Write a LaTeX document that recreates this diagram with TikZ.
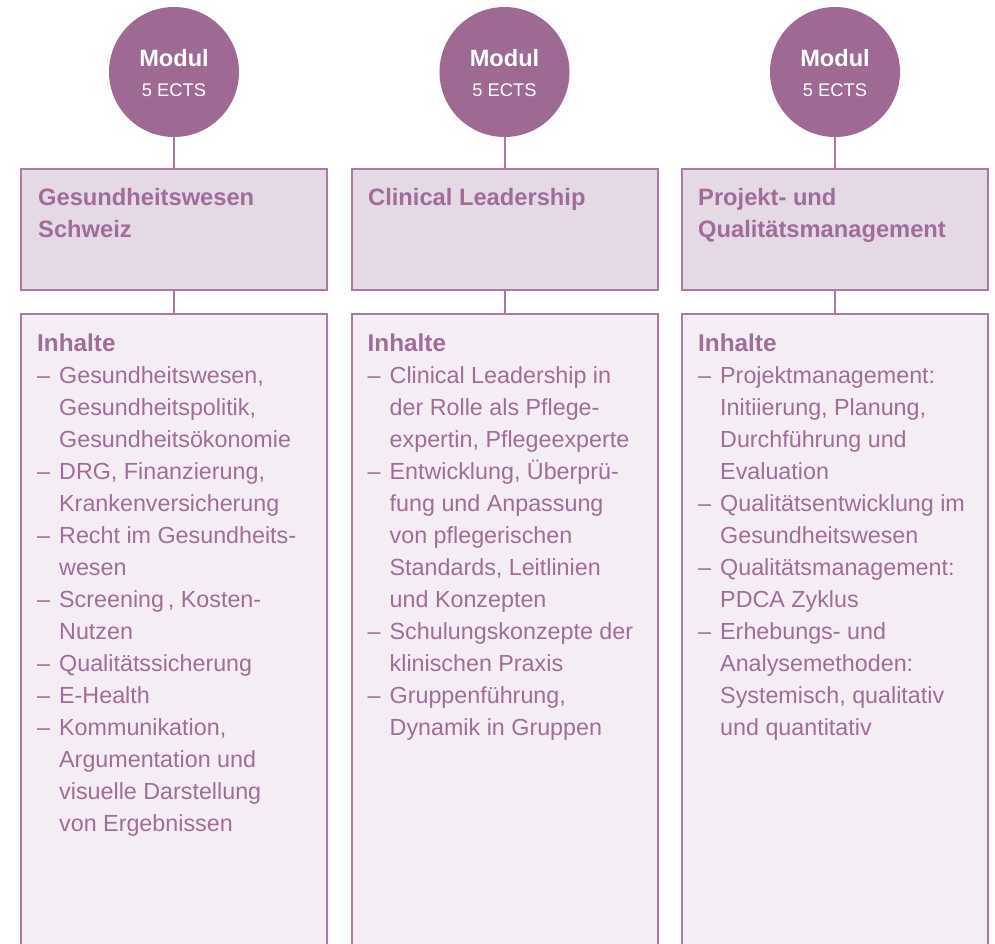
\documentclass[tikz,border=0pt]{standalone}
\usepackage{fontspec}
\setmainfont{Liberation Sans}
\definecolor{circ}{HTML}{9E6A93}
\definecolor{bord}{HTML}{A87BA2}
\definecolor{headf}{HTML}{E6D9E6}
\definecolor{contf}{HTML}{F4EEF4}
\definecolor{txt}{HTML}{A06C99}
\newcommand\dashline[4]{\node[itm] (#1) at (#2,#3) {\makebox[22pt][l]{–}#4};}
\newcommand\contline[4]{\node[itm] (#1) at (#2+22,#3) {#4};}
\begin{document}
\begin{tikzpicture}[x=1pt,y=-1pt,
 modc/.style={circle,fill=circ,draw=none,minimum size=130pt,inner sep=0},
 headbox/.style={rectangle,draw=bord,line width=2pt,fill=headf,minimum width=306pt,minimum height=121pt,inner sep=0},
 contbox/.style={rectangle,draw=bord,line width=2pt,fill=contf,minimum width=306pt,minimum height=646pt,inner sep=0},
 conn/.style={draw=bord,line width=2pt},
 ttl/.style={anchor=base west,inner sep=0,text=txt,font=\fontsize{23.7}{28}\selectfont\bfseries},
 itm/.style={anchor=base west,inner sep=0,text=txt,font=\fontsize{23.3}{28}\selectfont},
 hdl/.style={anchor=base west,inner sep=0,text=txt,font=\fontsize{24.3}{28}\selectfont\bfseries},
 mtop/.style={anchor=base,inner sep=0,text=white,font=\fontsize{23.6}{28}\selectfont\bfseries},
 mbot/.style={anchor=base,inner sep=0,text=white,font=\fontsize{18.3}{22}\selectfont}]
\useasboundingbox (0,0) rectangle (995,943);
\clip (0,0) rectangle (995,943);
\fill[white] (0,0) rectangle (995,943);
% columns
\foreach \cx/\k in {174/1,504.5/2,835/3}{
  \node[modc] (c\k) at (\cx,72) {};
  \node[headbox] (h\k) at (\cx,229.5) {};
  \node[contbox] (b\k) at (\cx,637) {};
  \draw[conn] (c\k) -- (h\k);
  \draw[conn] (h\k) -- (b\k);
  \node[mtop] (m\k) at (\cx,66) {Modul};
  \node[mbot] (e\k) at (\cx,96) {5 ECTS};
}
% titles
\node[ttl] (t11) at (38,205) {Gesundheitswesen};
\node[ttl] (t12) at (38,237) {Schweiz};
\node[ttl] (t21) at (368,205) {Clinical Leadership};
\node[ttl] (t31) at (698,205) {Projekt- und};
\node[ttl] (t32) at (698,237) {Qualitätsmanagement};
% column 1
\node[hdl] (i1) at (37,351) {Inhalte};
\dashline{a1}{37}{383}{Gesundheitswesen,}
\contline{a2}{37}{415}{Gesundheitspolitik,}
\contline{a3}{37}{447}{Gesundheitsökonomie}
\dashline{a4}{37}{479}{DRG, Finanzierung,}
\contline{a5}{37}{511}{Krankenversicherung}
\dashline{a6}{37}{543}{Recht im Gesundheits-}
\contline{a7}{37}{575}{wesen}
\dashline{a8}{37}{607}{Screening\thinspace, Kosten-}
\contline{a9}{37}{639}{Nutzen}
\dashline{a10}{37}{671}{Qualitätssicherung}
\dashline{a11}{37}{703}{E-Health}
\dashline{a12}{37}{735}{Kommunikation,}
\contline{a13}{37}{767}{Argumentation und}
\contline{a14}{37}{799}{visuelle Darstellung}
\contline{a15}{37}{831}{von Ergebnissen}
% column 2
\node[hdl] (i2) at (367.5,351) {Inhalte};
\dashline{p1}{367.5}{383}{Clinical Leadership in}
\contline{p2}{367.5}{415}{der Rolle als Pflege-}
\contline{p3}{367.5}{447}{expertin, Pflegeexperte}
\dashline{p4}{367.5}{479}{Entwicklung, Überprü-}
\contline{p5}{367.5}{511}{fung und Anpassung}
\contline{p6}{367.5}{543}{von pflegerischen}
\contline{p7}{367.5}{575}{Standards, Leitlinien}
\contline{p8}{367.5}{607}{und Konzepten}
\dashline{p9}{367.5}{639}{Schulungskonzepte der}
\contline{p10}{367.5}{671}{klinischen Praxis}
\dashline{p11}{367.5}{703}{Gruppenführung,}
\contline{p12}{367.5}{735}{Dynamik in Gruppen}
% column 3
\node[hdl] (i3) at (698,351) {Inhalte};
\dashline{q1}{698}{383}{Projektmanagement:}
\contline{q2}{698}{415}{Initiierung, Planung,}
\contline{q3}{698}{447}{Durchführung und}
\contline{q4}{698}{479}{Evaluation}
\dashline{q5}{698}{511}{Qualitätsentwicklung im}
\contline{q6}{698}{543}{Gesundheitswesen}
\dashline{q7}{698}{575}{Qualitätsmanagement:}
\contline{q8}{698}{607}{PDCA Zyklus}
\dashline{q9}{698}{639}{Erhebungs- und}
\contline{q10}{698}{671}{Analysemethoden:}
\contline{q11}{698}{703}{Systemisch, qualitativ}
\contline{q12}{698}{735}{und quantitativ}
\end{tikzpicture}
\end{document}
